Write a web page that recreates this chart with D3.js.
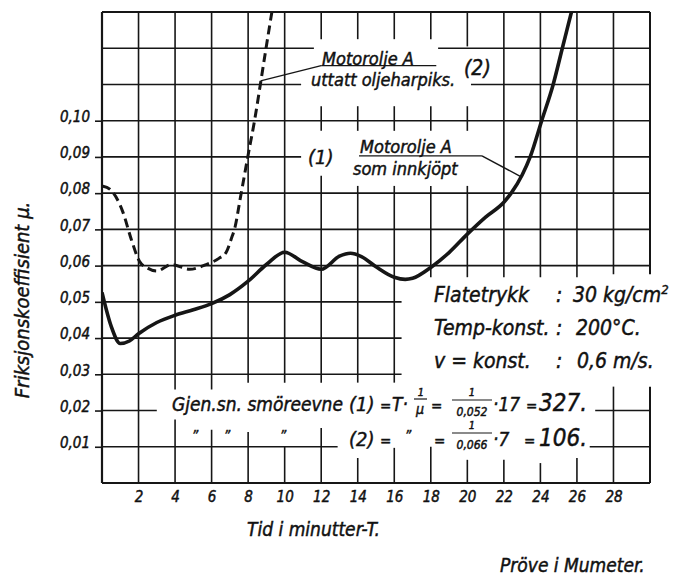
<!DOCTYPE html>
<html>
<head>
<meta charset="utf-8">
<script src="https://cdn.jsdelivr.net/npm/d3@7"></script>
<style>
  body { margin: 0; background: #fff; }
  text { font-family: "Liberation Sans Narrow", "DejaVu Sans Condensed", sans-serif; font-style: italic; fill: #111; stroke: #111; stroke-width: 0.45px; }
</style>
</head>
<body>
<svg id="chart" width="680" height="577"></svg>
<script>
//-- DATA --\\
var timeTicks = [2, 4, 6, 8, 10, 12, 14, 16, 18, 20, 22, 24, 26, 28];
var muTicks = [0.01, 0.02, 0.03, 0.04, 0.05, 0.06, 0.07, 0.08, 0.09, 0.10];
var muTickLabels = ["0,01", "0,02", "0,03", "0,04", "0,05", "0,06", "0,07", "0,08", "0,09", "0,10"];
var muGrid = [0.01, 0.02, 0.03, 0.04, 0.05, 0.06, 0.07, 0.08, 0.09, 0.10, 0.11, 0.12];

// (1) Motorolje A som innkjöpt  [minutes, mu]
var oilAsBought = [
  [0, 0.0526], [0.5, 0.0433], [1, 0.0385], [1.5, 0.0392], [2, 0.0412], [3, 0.0443],
  [4, 0.0463], [5, 0.0478], [6, 0.0495], [7, 0.052], [8, 0.0557], [9, 0.0603],
  [10, 0.0637], [11, 0.061], [12, 0.059], [13, 0.0626], [13.6, 0.0634], [14.2, 0.0625],
  [15, 0.0597], [16, 0.0568], [16.6, 0.0562], [17, 0.0565], [18, 0.0595], [19, 0.0636],
  [20, 0.0687], [21, 0.0734], [22, 0.0775], [22.4, 0.080], [23, 0.085], [23.44, 0.09],
  [24.07, 0.10], [24.7, 0.11], [25.2, 0.12], [25.7, 0.13]
];
// (2) Motorolje A uttatt oljeharpiks
var oilResinRemoved = [
  [0, 0.082], [0.45, 0.081], [1.15, 0.0747], [1.6, 0.0673], [2.05, 0.0612], [2.5, 0.0593],
  [3, 0.0585], [3.8, 0.0603], [4.8, 0.059], [5.7, 0.0603], [6.4, 0.062], [6.8, 0.0637],
  [7.07, 0.0673], [7.3, 0.071], [7.55, 0.078], [7.8, 0.085], [7.98, 0.09], [8.35, 0.10],
  [8.7, 0.111], [8.98, 0.12], [9.3, 0.13]
];

//-- LAYOUT --\\
var svg = d3.select("#chart");
var plotLeft = 102, plotRight = 650, plotTop = 12, plotBottom = 483;
var x = d3.scaleLinear().domain([0, 30]).range([plotLeft, plotRight]);
var y = d3.scaleLinear().domain([0, 0.13]).range([plotBottom, plotTop]);
var ink = "#161616";

svg.append("rect").attr("width", 680).attr("height", 577).attr("fill", "#fff");

// breaks in the grid where the lettering sits (in data units)
var vBreaks = {
  4: [[0.0258, 0.0175]], 6: [[0.0258, 0.0147]], 8: [[0.0277, 0.0141]], 10: [[0.0277, 0.0102]],
  12: [[0.1225, 0.104], [0.0972, 0.0848], [0.0277, 0.0152]],
  14: [[0.1225, 0.104], [0.0972, 0.082], [0.0277, 0.0069]],
  16: [[0.1225, 0.104], [0.0972, 0.082], [0.0277, 0.0097]],
  18: [[0.1225, 0.104], [0.0972, 0.082], [0.0568, 0.010]],
  20: [[0.1205, 0.104], [0.0972, 0.082], [0.0568, 0.0064]],
  22: [[0.0568, 0.0064]], 24: [[0.0568, 0.0055]], 26: [[0.0568, 0.0069]],
  28: [[0.0576, 0.0266]], 30: [[0.0576, 0.0266]]
};
var hBreaks = {
  0.12: [[11.6, 18.4]], 0.11: [[10.9, 20.2]], 0.09: [[10.9, 22.6]],
  0.05: [[16.4, 30]], 0.04: [[16.4, 30]], 0.03: [[16.4, 30]],
  0.02: [[3.0, 27.0]], 0.01: [[12.9, 26.7]]
};

// split [lo, hi] into the visible stretches between breaks
function pieces(lo, hi, breaks) {
  var out = [], start = lo;
  breaks.map(function (b) { return [Math.min(b[0], b[1]), Math.max(b[0], b[1])]; })
    .sort(function (a, b) { return a[0] - b[0]; })
    .forEach(function (b) {
      if (b[0] > start) out.push([start, b[0]]);
      start = b[1];
    });
  if (start < hi) out.push([start, hi]);
  return out;
}

var grid = svg.append("g").attr("stroke", ink).attr("stroke-width", 1.6);

timeTicks.concat([30]).forEach(function (t) {
  pieces(0, 0.13, vBreaks[t] || []).forEach(function (p) {
    grid.append("line")
      .attr("x1", x(t)).attr("x2", x(t))
      .attr("y1", y(p[0])).attr("y2", y(p[1]))
      .attr("stroke-width", t === 30 ? 2 : 1.6);
  });
});

muGrid.forEach(function (v) {
  pieces(0, 30, hBreaks[v] || []).forEach(function (p) {
    grid.append("line")
      .attr("x1", x(p[0])).attr("x2", x(p[1]))
      .attr("y1", y(v)).attr("y2", y(v));
  });
});

// frame: left, bottom, top
grid.append("line").attr("x1", x(0)).attr("x2", x(0)).attr("y1", y(0)).attr("y2", y(0.13)).attr("stroke-width", 2.2);
grid.append("line").attr("x1", x(0)).attr("x2", x(30)).attr("y1", y(0)).attr("y2", y(0)).attr("stroke-width", 2.2);
grid.append("line").attr("x1", x(0)).attr("x2", x(30)).attr("y1", y(0.13)).attr("y2", y(0.13)).attr("stroke-width", 2);

//-- AXES --\\
var yAxis = svg.append("g")
  .attr("transform", "translate(" + plotLeft + ",0)")
  .call(d3.axisLeft(y).tickValues(muTicks).tickSize(7).tickPadding(5)
    .tickFormat(function (d, i) { return muTickLabels[i]; }));
yAxis.select(".domain").remove();
yAxis.selectAll("line").attr("stroke", ink).attr("stroke-width", 1.6);
yAxis.selectAll("text").attr("dy", "0.05em").style("font-size", "15px").attr("font-family", null);

var xAxis = svg.append("g")
  .attr("transform", "translate(0," + plotBottom + ")")
  .call(d3.axisBottom(x).tickValues(timeTicks).tickSize(0).tickPadding(8).tickFormat(d3.format("d")));
xAxis.select(".domain").remove();
xAxis.selectAll("text").style("font-size", "15px").attr("font-family", null);

//-- CURVES --\\
svg.append("clipPath").attr("id", "plot")
  .append("rect").attr("x", plotLeft).attr("y", plotTop).attr("width", plotRight - plotLeft).attr("height", plotBottom - plotTop);

var line = d3.line()
  .x(function (d) { return x(d[0]); })
  .y(function (d) { return y(d[1]); })
  .curve(d3.curveMonotoneX);

svg.append("path").datum(oilResinRemoved)
  .attr("clip-path", "url(#plot)")
  .attr("d", line).attr("fill", "none").attr("stroke", ink)
  .attr("stroke-width", 3).attr("stroke-dasharray", "9,5");

svg.append("path").datum(oilAsBought)
  .attr("clip-path", "url(#plot)")
  .attr("d", line).attr("fill", "none").attr("stroke", ink)
  .attr("stroke-width", 3.6).attr("stroke-linejoin", "round");

//-- LABELS --\\
function label(txt, px, py, size, anchor) {
  return svg.append("text").attr("x", px).attr("y", py)
    .attr("text-anchor", anchor || "start")
    .style("font-size", size + "px").text(txt);
}
var ann = svg.append("g").attr("stroke", ink).attr("stroke-width", 1.4).attr("fill", "none");

// (2)
label("Motorolje A", 322, 65, 18);
label("uttatt oljeharpiks.", 311, 86, 18);
label("(2)", 464, 75, 21);
ann.append("line").attr("x1", x(12)).attr("x2", x(18.3)).attr("y1", y(0.1152)).attr("y2", y(0.1152));
ann.append("line").attr("x1", x(8.68)).attr("y1", y(0.111)).attr("x2", x(12)).attr("y2", y(0.1152));

// (1)
label("(1)", 308, 164, 20);
label("Motorolje A", 360, 153, 18);
label("som innkjöpt", 353, 175, 18);
ann.append("line").attr("x1", x(14.07)).attr("x2", x(20.8)).attr("y1", y(0.0903)).attr("y2", y(0.0903));
ann.append("line").attr("x1", x(20.8)).attr("y1", y(0.0903)).attr("x2", x(22.95)).attr("y2", y(0.0845));

// test conditions
label("Flatetrykk", 434, 302, 21);
label(":", 556, 302, 21);
svg.append("text").attr("x", 573).attr("y", 302).style("font-size", "21px")
  .text("30 kg/cm").append("tspan").attr("dy", -8).style("font-size", "13px").text("2");
label("Temp-konst.", 434, 335, 21);
label(":", 556, 335, 21);
label("200°C.", 576, 335, 21);
label("v = konst.", 434, 368, 21);
label(":", 556, 368, 21);
label("0,6 m/s.", 577, 368, 21);

// lubricity formula
label("Gjen.sn. smöreevne", 172, 411, 19);
label("(1)", 349, 411, 20);
label("=", 380, 411, 15);
label("T·", 392, 411, 19);
label("1", 421, 396, 11, "middle");
ann.append("line").attr("x1", 414).attr("x2", 427).attr("y1", 399).attr("y2", 399).attr("stroke-width", 1.2);
label("μ", 420, 414, 14, "middle");
label("=", 431, 411, 15);
label("1", 472, 396, 11, "middle");
ann.append("line").attr("x1", 452).attr("x2", 492).attr("y1", 400).attr("y2", 400).attr("stroke-width", 1.2);
label("0,052", 472, 416, 12, "middle");
label("·17", 493, 411, 19);
label("=", 526, 411, 15);
label("327.", 539, 411, 24);

label("\u201d", 195, 440, 14, "middle");
label("\u201d", 227, 440, 14, "middle");
label("\u201d", 283, 440, 14, "middle");
label("(2)", 349, 446, 20);
label("=", 380, 446, 15);
label("\u201d", 408, 440, 14, "middle");
label("=", 434, 446, 15);
label("1", 472, 429, 11, "middle");
ann.append("line").attr("x1", 452).attr("x2", 492).attr("y1", 433).attr("y2", 433).attr("stroke-width", 1.2);
label("0,066", 472, 449, 12, "middle");
label("·7", 493, 446, 19);
label("=", 524, 446, 15);
label("106.", 539, 446, 24);

// axis titles
label("Tid i minutter-T.", 247, 536, 19);
svg.append("text").attr("transform", "translate(29,300) rotate(-90)")
  .attr("text-anchor", "middle").style("font-size", "20px").text("Friksjonskoeffisient μ.");
label("Pröve i Mumeter.", 500, 572, 19);
</script>
</body>
</html>
